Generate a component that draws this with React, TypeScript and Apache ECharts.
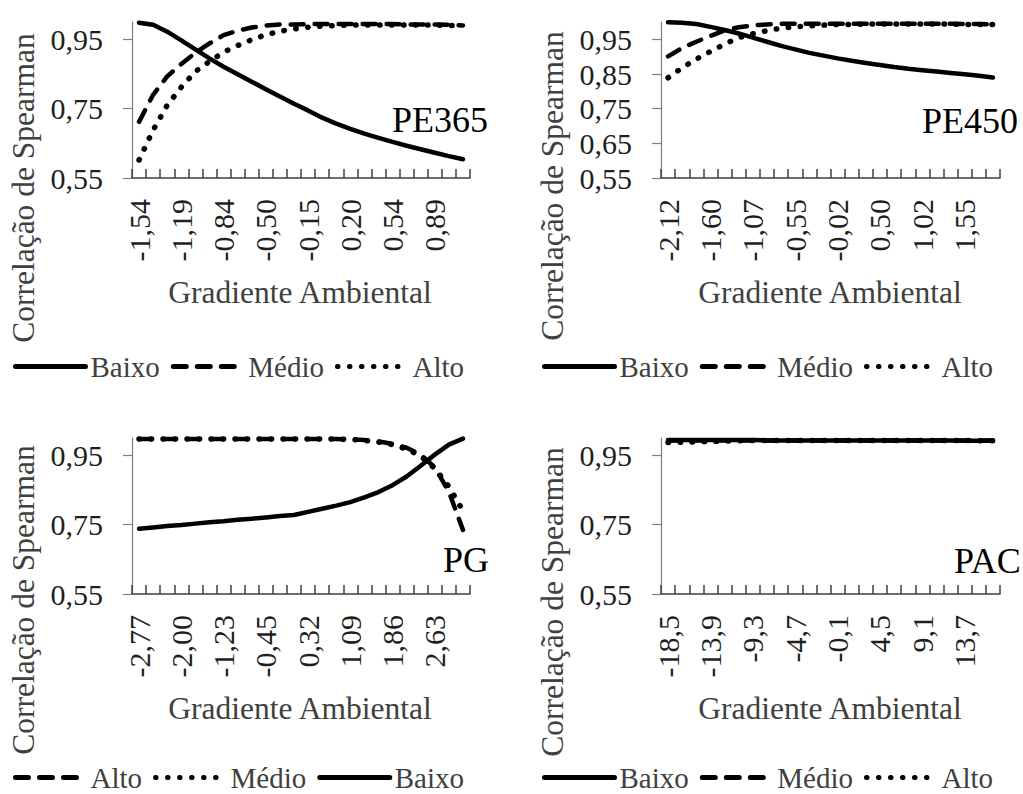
import React, { useEffect, useRef } from 'react';
import * as echarts from 'echarts';

const FONT = 'Liberation Serif';

// ---- Data ----
const xPE365 = [-1.54, -1.42, -1.31, -1.19, -1.08, -0.96, -0.84, -0.73, -0.61, -0.50, -0.38, -0.27, -0.15, -0.04, 0.08, 0.20, 0.31, 0.43, 0.54, 0.66, 0.77, 0.89, 1.01, 1.12];
const pe365Baixo = [0.998, 0.992, 0.972, 0.947, 0.921, 0.895, 0.871, 0.849, 0.828, 0.806, 0.785, 0.764, 0.745, 0.724, 0.707, 0.692, 0.678, 0.666, 0.654, 0.643, 0.633, 0.623, 0.613, 0.604];
const pe365Medio = [0.712, 0.790, 0.843, 0.879, 0.911, 0.938, 0.962, 0.975, 0.984, 0.990, 0.993, 0.993, 0.994, 0.994, 0.994, 0.994, 0.994, 0.994, 0.994, 0.993, 0.993, 0.993, 0.992, 0.990];
const pe365Alto = [0.602, 0.688, 0.760, 0.812, 0.857, 0.886, 0.913, 0.932, 0.949, 0.963, 0.973, 0.980, 0.985, 0.988, 0.990, 0.991, 0.991, 0.991, 0.991, 0.991, 0.991, 0.991, 0.990, 0.990];

const xPE450 = [-2.12, -1.95, -1.77, -1.60, -1.42, -1.25, -1.07, -0.90, -0.72, -0.55, -0.37, -0.20, -0.02, 0.15, 0.33, 0.50, 0.67, 0.85, 1.02, 1.20, 1.37, 1.55, 1.72, 1.90];
const pe450Baixo = [0.999, 0.998, 0.994, 0.986, 0.977, 0.967, 0.955, 0.943, 0.931, 0.921, 0.911, 0.903, 0.895, 0.888, 0.882, 0.876, 0.870, 0.865, 0.861, 0.857, 0.853, 0.849, 0.845, 0.840];
const pe450Medio = [0.901, 0.925, 0.943, 0.960, 0.976, 0.985, 0.990, 0.993, 0.995, 0.995, 0.995, 0.995, 0.995, 0.995, 0.995, 0.995, 0.995, 0.995, 0.995, 0.995, 0.995, 0.994, 0.994, 0.993];
const pe450Alto = [0.839, 0.868, 0.893, 0.915, 0.936, 0.955, 0.966, 0.975, 0.982, 0.986, 0.989, 0.991, 0.993, 0.993, 0.994, 0.994, 0.994, 0.994, 0.994, 0.994, 0.994, 0.993, 0.993, 0.993];

const xPG = [-2.77, -2.51, -2.26, -2.00, -1.74, -1.49, -1.23, -0.97, -0.71, -0.45, -0.20, 0.06, 0.32, 0.58, 0.83, 1.09, 1.35, 1.60, 1.86, 2.12, 2.37, 2.63, 2.89, 3.15];
const pgAlto = [0.997, 0.997, 0.997, 0.997, 0.997, 0.997, 0.997, 0.997, 0.997, 0.997, 0.997, 0.997, 0.997, 0.997, 0.997, 0.996, 0.994, 0.990, 0.983, 0.972, 0.952, 0.915, 0.845, 0.735];
const pgMedio = [0.997, 0.997, 0.997, 0.997, 0.997, 0.997, 0.997, 0.997, 0.997, 0.997, 0.997, 0.997, 0.997, 0.997, 0.997, 0.996, 0.993, 0.988, 0.981, 0.968, 0.948, 0.912, 0.860, 0.790];
const pgBaixo = [0.738, 0.742, 0.746, 0.749, 0.753, 0.757, 0.760, 0.764, 0.767, 0.771, 0.775, 0.778, 0.787, 0.796, 0.805, 0.815, 0.829, 0.844, 0.864, 0.889, 0.920, 0.952, 0.981, 0.998];

const xPAC = [-18.5, -17.0, -15.4, -13.9, -12.4, -10.8, -9.3, -7.8, -6.2, -4.7, -3.2, -1.6, -0.1, 1.4, 3.0, 4.5, 6.0, 7.6, 9.1, 10.6, 12.2, 13.7, 15.2, 16.8];
const pacBaixo = [0.994, 0.994, 0.994, 0.994, 0.994, 0.994, 0.994, 0.993, 0.993, 0.993, 0.993, 0.993, 0.993, 0.993, 0.993, 0.993, 0.993, 0.993, 0.993, 0.993, 0.993, 0.992, 0.992, 0.992];
const pacMedio = [0.992, 0.993, 0.993, 0.993, 0.993, 0.993, 0.993, 0.993, 0.993, 0.993, 0.993, 0.993, 0.993, 0.993, 0.993, 0.993, 0.993, 0.993, 0.993, 0.993, 0.993, 0.993, 0.993, 0.993];
const pacAlto = [0.987, 0.988, 0.989, 0.990, 0.991, 0.992, 0.993, 0.993, 0.993, 0.993, 0.993, 0.993, 0.993, 0.993, 0.993, 0.993, 0.993, 0.993, 0.993, 0.993, 0.993, 0.993, 0.992, 0.992];

const yTicksA = [0.55, 0.75, 0.95];
const yTicksB = [0.55, 0.65, 0.75, 0.85, 0.95];

const panelNames = ['PE365', 'PE450', 'PG', 'PAC'];

type Style = 'solid' | 'dashed' | 'dotted';
type Line = { name: string; data: number[]; style: Style };

const panels: { id: string; x: number[]; decimals: number; yTicks: number[]; lines: Line[] }[] = [
  {
    id: panelNames[0], x: xPE365, decimals: 2, yTicks: yTicksA,
    lines: [
      { name: 'Baixo', data: pe365Baixo, style: 'solid' },
      { name: 'Médio', data: pe365Medio, style: 'dashed' },
      { name: 'Alto', data: pe365Alto, style: 'dotted' },
    ],
  },
  {
    id: panelNames[1], x: xPE450, decimals: 2, yTicks: yTicksB,
    lines: [
      { name: 'Baixo', data: pe450Baixo, style: 'solid' },
      { name: 'Médio', data: pe450Medio, style: 'dashed' },
      { name: 'Alto', data: pe450Alto, style: 'dotted' },
    ],
  },
  {
    id: panelNames[2], x: xPG, decimals: 2, yTicks: yTicksA,
    lines: [
      { name: 'Alto', data: pgAlto, style: 'dashed' },
      { name: 'Médio', data: pgMedio, style: 'dotted' },
      { name: 'Baixo', data: pgBaixo, style: 'solid' },
    ],
  },
  {
    id: panelNames[3], x: xPAC, decimals: 1, yTicks: yTicksA,
    lines: [
      { name: 'Baixo', data: pacBaixo, style: 'solid' },
      { name: 'Médio', data: pacMedio, style: 'dashed' },
      { name: 'Alto', data: pacAlto, style: 'dotted' },
    ],
  },
];

// ---- Layout ----
const gridBoxes = [
  { left: 132, top: 22, width: 338, height: 156 },
  { left: 661, top: 22, width: 339, height: 156 },
  { left: 132, top: 438, width: 338, height: 156 },
  { left: 661, top: 438, width: 339, height: 156 },
];
const legendPos = [
  { left: 13, top: 352 },
  { left: 542, top: 352 },
  { left: 13, top: 763 },
  { left: 542, top: 763 },
];
const yTitlePos = [
  { x: 23, y: 188 },
  { x: 552, y: 186 },
  { x: 23, y: 600 },
  { x: 552, y: 602 },
];
const xTitlePos = [
  { x: 300, y: 292 },
  { x: 830, y: 292 },
  { x: 300, y: 708 },
  { x: 830, y: 708 },
];
const panelLabelPos = [
  { x: 392, y: 120 },
  { x: 922, y: 121 },
  { x: 443, y: 560 },
  { x: 954, y: 561 },
];

const dashFor = (s: Style): any =>
  s === 'solid' ? 'solid' : s === 'dashed' ? [13, 11] : [0.5, 11.5];

const TICK_COLOR = '#1f1f1f';
const TITLE_COLOR = '#404040';

function buildOption() {
  const grid = gridBoxes.map((g) => ({ ...g, containLabel: false, outerBoundsMode: 'none' }));

  const xAxis = panels.map((p, i) => ({
    type: 'category',
    gridIndex: i,
    data: p.x.map((v) => v.toFixed(p.decimals).replace('.', ',')),
    boundaryGap: true,
    axisLine: { show: true, onZero: false, lineStyle: { color: '#404040', width: 1.5 } },
    axisTick: { show: true, inside: true, length: 9, interval: 0, lineStyle: { color: '#404040', width: 1.5 } },
    axisLabel: {
      show: true,
      interval: 2,
      rotate: 90,
      margin: 21,
      fontFamily: FONT,
      fontSize: 30,
      color: TICK_COLOR,
    },
    splitLine: { show: false },
  }));

  const yAxis = panels.map((p, i) => ({
    type: 'value',
    gridIndex: i,
    min: 0.55,
    max: 1.0,
    axisLine: { show: true, lineStyle: { color: '#7f7f7f', width: 1.2 } },
    axisTick: { show: true, length: 9, customValues: p.yTicks, lineStyle: { color: '#7f7f7f', width: 1.2 } },
    axisLabel: {
      show: true,
      customValues: p.yTicks,
      formatter: (v: number) => '{t|' + v.toFixed(2).replace('.', ',') + '}',
      margin: 29,
      fontFamily: FONT,
      fontSize: 30,
      color: TICK_COLOR,
      rich: {
        t: { fontFamily: FONT, fontSize: 30, color: TICK_COLOR },
      },
    },
    splitLine: { show: false },
  }));

  const series: any[] = [];
  const legend: any[] = [];
  panels.forEach((p, i) => {
    const names: string[] = [];
    p.lines.forEach((l) => {
      const nm = p.id + '|' + l.name;
      names.push(nm);
      series.push({
        type: 'line',
        name: nm,
        xAxisIndex: i,
        yAxisIndex: i,
        data: l.data,
        symbol: 'none',
        showSymbol: false,
        clip: false,
        silent: true,
        lineStyle: {
          color: '#000',
          width: l.style === 'dotted' ? 5.5 : 4.5,
          type: dashFor(l.style),
          cap: 'round',
          join: 'round',
        },
        itemStyle: { color: '#000' },
        emphasis: { disabled: true },
      });
    });
    legend.push({
      show: true,
      orient: 'horizontal',
      left: legendPos[i].left,
      top: legendPos[i].top,
      padding: 0,
      itemWidth: 70,
      itemHeight: 14,
      itemGap: 11,
      selectedMode: false,
      data: names,
      formatter: (n: string) => n.split('|')[1],
      textStyle: { fontFamily: FONT, fontSize: 29, color: TITLE_COLOR },
      lineStyle: { width: 5 },
      itemStyle: { opacity: 0, color: 'rgba(0,0,0,0)', borderWidth: 0 },
    });
  });

  const graphic: any[] = [];
  panels.forEach((p, i) => {
    graphic.push({
      type: 'text',
      x: yTitlePos[i].x,
      y: yTitlePos[i].y,
      rotation: Math.PI / 2,
      silent: true,
      style: {
        text: 'Correlação de Spearman',
        fontFamily: FONT,
        fontSize: 31.5,
        fill: TITLE_COLOR,
        align: 'center',
        verticalAlign: 'middle',
        textAlign: 'center',
        textVerticalAlign: 'middle',
      },
    });
    graphic.push({
      type: 'text',
      x: xTitlePos[i].x,
      y: xTitlePos[i].y,
      silent: true,
      style: {
        text: 'Gradiente Ambiental',
        fontFamily: FONT,
        fontSize: 31.5,
        fill: TITLE_COLOR,
        align: 'center',
        verticalAlign: 'middle',
        textAlign: 'center',
        textVerticalAlign: 'middle',
      },
    });
    graphic.push({
      type: 'text',
      x: panelLabelPos[i].x,
      y: panelLabelPos[i].y,
      silent: true,
      style: {
        text: p.id,
        fontFamily: FONT,
        fontSize: 36,
        fill: '#000',
        align: 'left',
        verticalAlign: 'middle',
        textAlign: 'left',
        textVerticalAlign: 'middle',
      },
    });
  });

  return {
    animation: false,
    backgroundColor: '#ffffff',
    textStyle: { fontFamily: FONT },
    grid,
    xAxis,
    yAxis,
    series,
    legend,
    graphic,
    tooltip: { show: false },
  };
}

export default function App() {
  const ref = useRef<HTMLDivElement | null>(null);
  useEffect(() => {
    if (!ref.current) return;
    const chart = echarts.init(ref.current, undefined, { renderer: 'svg' });
    chart.setOption(buildOption() as any);
    return () => chart.dispose();
  }, []);
  return (
    <div
      ref={ref}
      style={{ position: 'absolute', left: 0, top: 0, width: 1023, height: 794, background: '#fff' }}
    />
  );
}
